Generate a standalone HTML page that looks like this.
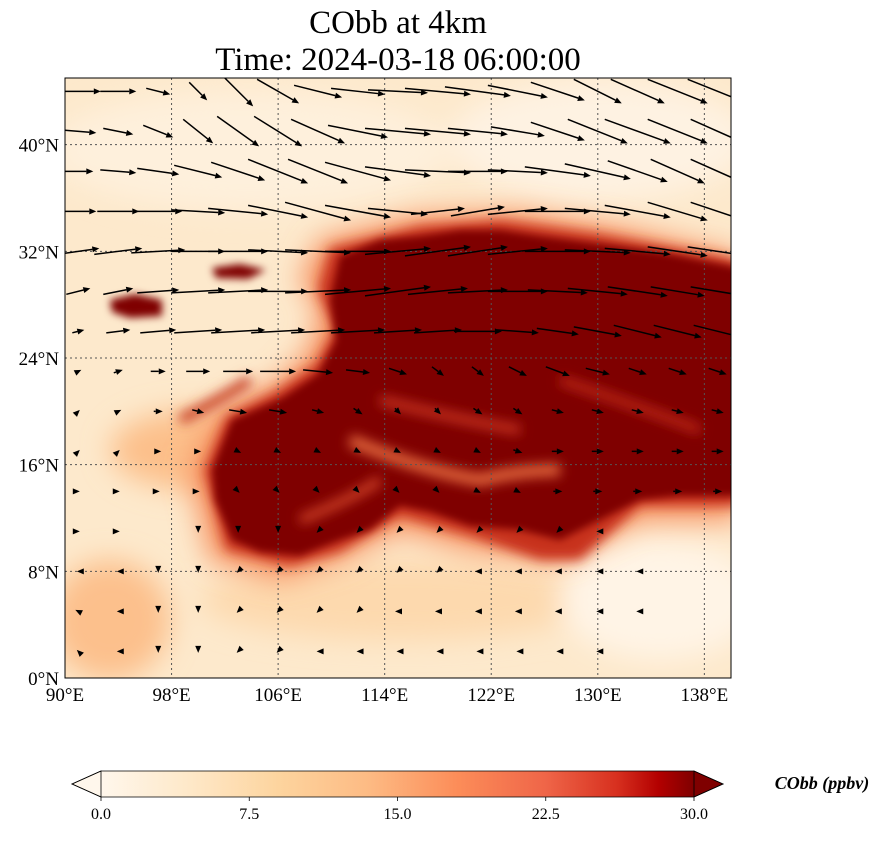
<!DOCTYPE html>
<html>
<head>
<meta charset="utf-8">
<style>
  html,body{margin:0;padding:0;background:#fff;}
  body{width:887px;height:836px;overflow:hidden;font-family:"Liberation Serif",serif;}
  svg text{font-family:"Liberation Serif",serif;}
</style>
</head>
<body>
<svg id="chart" width="887" height="836" viewBox="0 0 887 836" xmlns="http://www.w3.org/2000/svg">
  <defs>
    <filter id="blur6" x="-20%" y="-20%" width="140%" height="140%"><feGaussianBlur stdDeviation="6"/></filter>
    <filter id="blur12" x="-30%" y="-30%" width="160%" height="160%"><feGaussianBlur stdDeviation="14"/></filter>
    <filter id="blur3"><feGaussianBlur stdDeviation="4"/></filter>
    <clipPath id="mapclip"><rect x="65" y="78" width="666" height="600"/></clipPath>
    <linearGradient id="cbgrad" x1="0" x2="1" y1="0" y2="0">
      <stop offset="0" stop-color="#fff7ec"/>
      <stop offset="0.15" stop-color="#fee8c8"/>
      <stop offset="0.3" stop-color="#fdd49e"/>
      <stop offset="0.45" stop-color="#fdbb84"/>
      <stop offset="0.6" stop-color="#fc8d59"/>
      <stop offset="0.75" stop-color="#ef6548"/>
      <stop offset="0.87" stop-color="#d7301f"/>
      <stop offset="0.94" stop-color="#b30000"/>
      <stop offset="1" stop-color="#7f0000"/>
    </linearGradient>
  </defs>

  <text x="398" y="33" text-anchor="middle" font-size="33">CObb at 4km</text>
  <text x="398" y="70" text-anchor="middle" font-size="33">Time: 2024-03-18 06:00:00</text>

  <g clip-path="url(#mapclip)">
    <rect x="65" y="78" width="666" height="600" fill="#fde9cc"/>
    <g filter="url(#blur12)">
      <ellipse cx="110" cy="620" rx="60" ry="60" fill="#fcc08c"/>
      <ellipse cx="200" cy="450" rx="90" ry="40" fill="#fcbf8a"/>
      <ellipse cx="400" cy="600" rx="200" ry="40" fill="#fdd9ae"/>
      <ellipse cx="660" cy="600" rx="100" ry="60" fill="#fff4e6"/>
      <ellipse cx="250" cy="150" rx="200" ry="60" fill="#fef0dc"/>
      <ellipse cx="600" cy="140" rx="150" ry="60" fill="#fef2e2"/>
    </g>
    <g filter="url(#blur12)">
      <polygon fill="#f6905f" points="320,240 420,215 520,212 620,228 740,255 740,520 640,520 560,560 470,550 400,530 340,560 280,580 210,560 190,470 220,410 280,380 310,350 320,310 300,280"/>
    </g>
    <g filter="url(#blur6)">
      <polygon fill="#c8321f" points="330,248 420,226 500,220 600,234 740,260 740,506 640,506 580,560 540,560 470,536 400,516 340,552 290,566 226,550 204,470 226,416 278,390 316,364 334,330 318,290"/>
    </g>
    <g filter="url(#blur3)">
      <polygon fill="#7f0000" points="340,256 380,240 420,236 460,230 500,230 540,236 600,244 660,252 740,268 740,496 680,496 640,500 600,520 560,540 520,530 470,526 430,512 400,506 370,530 340,540 300,556 260,552 232,540 215,500 212,470 232,420 282,398 318,374 336,340 330,300"/>
      <polygon fill="#7f0000" points="110,300 135,294 162,300 162,316 130,318 112,312"/>
      <polygon fill="#7f0000" points="212,268 240,264 266,270 248,279 216,278"/>
    </g>
    <g filter="url(#blur6)">
      <path d="M350,440 Q420,470 480,480 Q520,470 560,470" stroke="#e4683d" stroke-width="12" fill="none"/>
      <path d="M380,400 Q460,420 520,430" stroke="#d13a26" stroke-width="8" fill="none"/>
      <path d="M560,380 Q620,400 700,430" stroke="#c32a1b" stroke-width="8" fill="none"/>
      <path d="M300,520 Q350,500 380,480" stroke="#d84a2c" stroke-width="8" fill="none"/>
      <path d="M180,420 Q220,400 250,380" stroke="#c63a23" stroke-width="10" fill="none"/>
    </g>
    <g id="grid"></g>
    <g id="arrows"></g>
  </g>
  <rect x="65" y="78" width="666" height="600" fill="none" stroke="#000" stroke-width="1"/>
  <g id="ticks"></g>

  <g>
    <rect x="101" y="771" width="593" height="26" fill="url(#cbgrad)"/>
    <polygon points="101,771 72,784 101,797" fill="#fff7ec" stroke="#000" stroke-width="0.8"/>
    <polygon points="694,771 723,784 694,797" fill="#7f0000" stroke="#000" stroke-width="0.8"/>
    <polyline points="101,771 694,771 723,784 694,797 101,797 72,784 101,771" fill="none" stroke="#000" stroke-width="0.8"/>
    <g id="cbticks"></g>
    <text x="822" y="789" text-anchor="middle" font-size="18" font-weight="bold" font-style="italic">CObb (ppbv)</text>
  </g>
</svg>
<script>
// ----- chart data -----
const lonTicks = [90, 98, 106, 114, 122, 130, 138];
const latTicks = [0, 8, 16, 24, 32, 40];
const cbTicks = [0.0, 7.5, 15.0, 22.5, 30.0];
const lons = [91, 94, 97, 100, 103, 106, 109, 112, 115, 118, 121, 124, 127, 130, 133, 136, 139];
const lats = [44, 41, 38, 35, 32, 29, 26, 23, 20, 17, 14, 11, 8, 5, 2];
const u44 = [15,12,8,6,10,14,16,18,20,22,22,20,18,16,18,20,20];
const v44 = [0,0,-2,-6,-10,-8,-4,-2,-1,-2,-3,-4,-6,-8,-8,-8,-8];
const u41 = [12,10,10,10,14,16,18,20,22,22,20,18,18,20,22,20,18];
const v41 = [-1,-2,-4,-8,-10,-10,-8,-4,-2,-2,-2,-3,-6,-8,-8,-8,-8];
const u38 = [10,12,14,16,18,20,20,22,22,22,20,20,22,22,20,18,18];
const v38 = [0,-1,-2,-4,-6,-8,-8,-6,-3,-1,0,-1,-3,-5,-7,-8,-8];
const u35 = [12,14,16,18,20,20,22,22,20,18,18,20,22,22,22,20,18];
const v35 = [0,0,0,-1,-2,-4,-6,-4,-2,2,3,2,0,-2,-4,-6,-6];
const u32 = [14,16,18,18,20,20,22,22,22,22,20,20,22,22,22,20,20];
const v32 = [2,2,1,0,0,-1,-1,0,2,3,3,2,0,-1,-2,-3,-3];
const u29 = [8,10,14,18,20,20,22,22,22,20,20,20,20,20,20,18,18];
const v29 = [2,2,1,1,1,0,1,2,3,2,1,0,-1,-2,-3,-3,-3];
const u26 = [4,8,12,16,18,18,18,18,16,16,16,14,14,16,16,16,16];
const v26 = [1,1,1,1,1,1,1,1,1,1,0,-1,-2,-3,-4,-4,-4];
const u23 = [2,3,5,8,10,12,10,8,6,4,4,6,8,8,6,6,6];
const v23 = [1,1,0,0,0,0,-1,-1,-2,-3,-3,-3,-3,-2,-2,-2,-2];
const u20 = [1,2,3,4,6,6,4,3,2,2,3,3,4,4,4,4,4];
const v20 = [1,1,0,-1,-1,-1,-1,-2,-2,-2,-2,-2,-1,-1,-1,-1,-1];
const u17 = [1,1,2,2,2,2,2,2,2,2,2,3,4,4,4,4,4];
const v17 = [1,1,0,0,-1,-1,-1,-1,-1,-1,-1,-1,0,0,0,0,0];
const u14 = [1,1,1,1,1,1,1,1,1,1,2,2,3,3,3,3,3];
const v14 = [0,0,0,0,-1,-1,-1,-1,-1,-1,-1,-1,0,0,0,0,0];
const u11 = [1,1,0,0,0,0,-1,-1,-1,-1,-1,-1,-1,-1,0,0,0];
const v11 = [0,0,0,-1,-1,-1,-1,-1,-1,-1,-1,-1,-1,0,0,0,0];
const u8 = [-1,-1,0,0,-1,-1,-1,-1,-1,-1,-2,-2,-2,-1,-1,0,0];
const v8 = [0,0,-1,-1,-1,-1,-1,-1,-1,-1,0,0,0,0,0,0,0];
const u5 = [-2,-1,0,0,-1,-1,-1,-1,-2,-2,-2,-2,-2,-1,-1,0,0];
const v5 = [1,0,-1,-1,-1,-1,-1,-1,0,0,0,0,0,0,0,0,0];
const u2 = [-1,-1,0,0,-1,-1,-1,-1,-1,-1,-1,-1,-1,-1,0,0,0];
const v2 = [1,0,-1,-1,-1,-1,0,0,0,0,0,0,0,0,0,0,0];
const uRows = [u44,u41,u38,u35,u32,u29,u26,u23,u20,u17,u14,u11,u8,u5,u2];
const vRows = [v44,v41,v38,v35,v32,v29,v26,v23,v20,v17,v14,v11,v8,v5,v2];

// ----- axis functions -----
const NS = "http://www.w3.org/2000/svg";
const X0 = 65, X1 = 731, Y0 = 78, Y1 = 678;
const xScale = lon => X0 + (lon - 90) / 50 * (X1 - X0);
const yScale = lat => Y1 - lat / 45 * (Y1 - Y0);
const cbScale = v => 101 + v / 30 * (694 - 101);
const ARROW = 3.0;

function mk(tag, attrs, parent) {
  const e = document.createElementNS(NS, tag);
  for (const k in attrs) e.setAttribute(k, attrs[k]);
  parent.appendChild(e);
  return e;
}

const grid = document.getElementById('grid');
const ticks = document.getElementById('ticks');
lonTicks.forEach(lon => {
  const x = xScale(lon);
  const l = mk('line', {x1:x, x2:x, y1:Y0, y2:Y1, stroke:'#555', 'stroke-width':1, 'stroke-dasharray':'2,3'}, grid);
  
  
  const t = mk('text', {x:x, y:Y1 + 23, 'text-anchor':'middle', 'font-size':19}, ticks);
  t.textContent = lon + '°E';
  
  
});
latTicks.forEach(lat => {
  const y = yScale(lat);
  const l = mk('line', {x1:X0, x2:X1, y1:y, y2:y, stroke:'#555', 'stroke-width':1, 'stroke-dasharray':'2,3'}, grid);
  
  
  const t = mk('text', {x:X0 - 6, y:y + 7, 'text-anchor':'end', 'font-size':19}, ticks);
  t.textContent = lat + '°N';
  
  
});

const arrows = document.getElementById('arrows');
lats.forEach((lat, i) => {
  lons.forEach((lon, j) => {
    const u = uRows[i][j], v = vRows[i][j];
    const x = xScale(lon), y = yScale(lat);
    const dx = u * ARROW, dy = -v * ARROW;
    const len = Math.hypot(dx, dy);
    if (len < 0.01) return;
    const ux = dx / len, uy = dy / len;
    const g = mk('g', {}, arrows);
    
    
    const tx = x + dx / 2, ty = y + dy / 2;
    const sx = x - dx / 2, sy = y - dy / 2;
    const hl = 7, hw = 3;
    const bx = tx - ux * hl, by = ty - uy * hl;
    if (len > hl) mk('line', {x1:sx, y1:sy, x2:bx, y2:by, stroke:'#000', 'stroke-width':1.5}, g);
    mk('polygon', {points: `${tx},${ty} ${bx - uy*hw},${by + ux*hw} ${bx + uy*hw},${by - ux*hw}`, fill:'#000'}, g);
  });
});

const cbt = document.getElementById('cbticks');
cbTicks.forEach(v => {
  const x = cbScale(v);
  mk('line', {x1:x, x2:x, y1:797, y2:801, stroke:'#000', 'stroke-width':0.8}, cbt);
  const t = mk('text', {x:x, y:819, 'text-anchor':'middle', 'font-size':16}, cbt);
  t.textContent = v.toFixed(1);
  
  
});
</script>
</body>
</html>
